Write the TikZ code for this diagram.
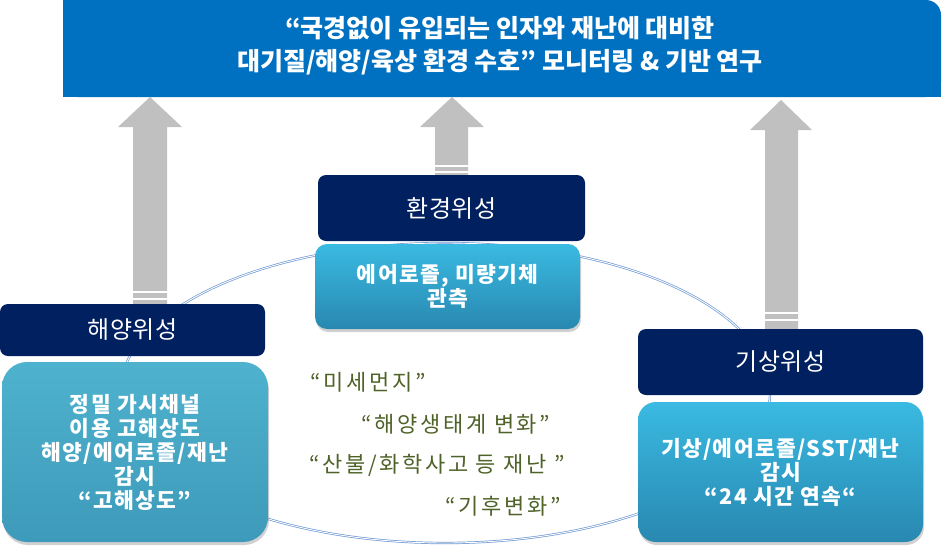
\documentclass[tikz,border=0pt]{standalone}
\usepackage{fontspec}
\setmainfont{Noto Sans CJK KR}
\usetikzlibrary{shadows}
\definecolor{bannerblue}{RGB}{0,112,192}
\definecolor{navy}{RGB}{0,32,96}
\definecolor{cyantop}{RGB}{58,186,226}
\definecolor{cyanbot}{RGB}{40,136,176}
\definecolor{aquatop}{RGB}{78,178,206}
\definecolor{aquabot}{RGB}{62,154,186}
\definecolor{olivetext}{RGB}{79,98,40}
\definecolor{arrowgray}{RGB}{192,192,192}
\definecolor{ringblue}{RGB}{110,152,210}
\begin{document}
\begin{tikzpicture}[x=1pt,y=-1pt,
  navybox/.style={fill=navy, rounded corners=8pt, text=white,
    font=\fontsize{24}{28}\selectfont\addfontfeature{LetterSpace=2}, inner sep=0pt},
  infobox/.style={rounded corners=#1, text=white,
    font=\bfseries\fontsize{21.5}{24}\selectfont\addfontfeature{LetterSpace=6}, align=center, inner sep=0pt,
    top color=cyantop, bottom color=cyanbot,
    drop shadow={shadow xshift=1pt, shadow yshift=-3pt, opacity=0.3, fill=black!60}},
  oliveq/.style={text=olivetext, font=\fontsize{22}{24}\selectfont\addfontfeature{LetterSpace=12}, inner sep=0pt},
  stripe/.style={white, line width=1.6pt},
  uparrow/.style={fill=arrowgray}
]
\useasboundingbox (0,0) rectangle (943,552);

% banner
\fill[bannerblue, rounded corners=15pt] (63,0) rectangle (941,97);
\fill[bannerblue] (63,0) rectangle (110,50);
\fill[bannerblue] (63,50) rectangle (110,97);
\fill[bannerblue] (890,50) rectangle (941,97);
\node[text=white, font=\bfseries\fontsize{25}{33}\selectfont, align=center, inner sep=0pt]
  (banner) at (500,46) {“국경없이 유입되는 인자와 재난에 대비한\\대기질/해양/육상 환경 수호” 모니터링 \& 기반 연구};

% ellipse
\draw[ringblue, line width=0.7pt, double=white, double distance=0.9pt]
  (445,393) ellipse [x radius=325pt, y radius=150pt];

% arrows
\fill[uparrow] (150,97) -- (182,127) -- (167,127) -- (167,304) -- (133,304) -- (133,127) -- (118,127) -- cycle;
\draw[stripe] (133,292) -- (167,292);
\draw[stripe] (133,299) -- (167,299);

\fill[uparrow] (452,97) -- (484,127) -- (468,127) -- (468,176) -- (435,176) -- (435,127) -- (420,127) -- cycle;
\draw[stripe] (435,166) -- (468,166);
\draw[stripe] (435,172) -- (468,172);

\fill[uparrow] (781,100) -- (812,130) -- (798,130) -- (798,329) -- (765,329) -- (765,130) -- (750,130) -- cycle;
\draw[stripe] (765,313) -- (798,313);
\draw[stripe] (765,320) -- (798,320);

% navy boxes
\node[navybox, minimum width=267pt, minimum height=66pt] (env) at (451.5,208) {환경위성};
\node[navybox, minimum width=265pt, minimum height=52pt] (sea) at (132.5,330) {해양위성};
\node[navybox, minimum width=285pt, minimum height=66pt] (met) at (780.5,362) {기상위성};

% info boxes
\node[infobox=12pt, minimum width=265pt, minimum height=85pt] (envinfo) at (447.5,286.5)
  {에어로졸, 미량기체\\관측};
\node[infobox=25pt, top color=aquatop, bottom color=aquabot, minimum width=266pt, minimum height=180pt]
  (seainfo) at (135,452)
  {정밀 가시채널\\이용 고해상도\\해양/에어로졸/재난\\감시\\“고해상도”};
\node[infobox=18pt, minimum width=285pt, minimum height=140pt] (metinfo) at (780.5,472)
  {기상/에어로졸/SST/재난\\감시\\“24 시간 연속“};

% olive texts
\node[oliveq] (q1) at (368,382) {“미세먼지”};
\node[oliveq] (q2) at (456,424) {“해양생태계 변화”};
\node[oliveq] (q3) at (437,465) {“산불/화학사고 등 재난 ”};
\node[oliveq] (q4) at (503,506) {“기후변화”};
\end{tikzpicture}
\end{document}
